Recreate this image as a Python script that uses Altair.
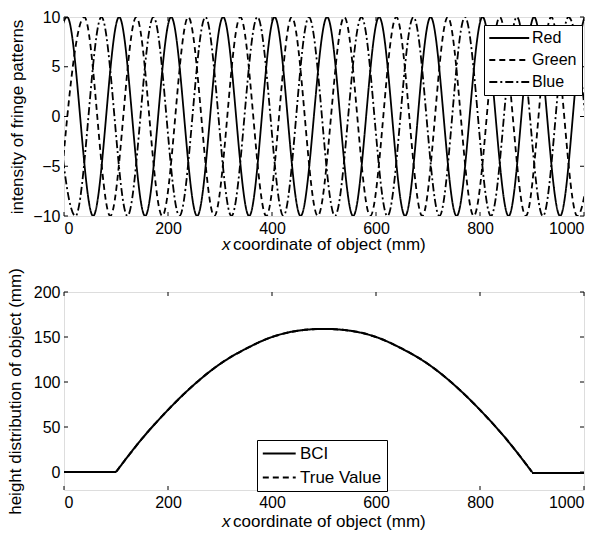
import altair as alt
import pandas as pd

# ---- fringe patterns: positions (mm) of successive maxima/minima of each channel
red_x = [-44, 6, 56, 106, 156, 206, 256, 306, 356, 405, 455, 506, 556, 606, 656,
         705, 755, 805, 855, 904, 954, 1003, 1053]
red_y = [-10, 10, -10, 10, -10, 10, -10, 10, -10, 10, -10, 10, -10, 10, -10,
         10, -10, 10, -10, 10, -10, 10, -10]
green_x = [-11, 39, 89, 139, 189, 239, 289, 339, 389, 438, 488, 539, 589, 639,
           689, 738, 788, 838, 888, 937, 987, 1037]
green_y = [-10, 10, -10, 10, -10, 10, -10, 10, -10, 10, -10, 10, -10, 10,
           -10, 10, -10, 10, -10, 10, -10, 10]
blue_x = [-28, 22, 72, 122, 172, 222, 272, 322, 372, 422, 471, 521, 572, 622,
          672, 722, 771, 821, 871, 921, 970, 1020]
blue_y = [10, -10, 10, -10, 10, -10, 10, -10, 10, -10, 10, -10, 10, -10,
          10, -10, 10, -10, 10, -10, 10, -10]

# ---- height distribution of the object (mm)
flat_left_x = [0, 100]
flat_left_h = [0, 0]
dome_x = [100, 150, 200, 250, 300, 350, 400, 450, 500, 550, 600, 650, 700,
          750, 800, 850, 900]
dome_h = [0, 37, 69, 97, 120, 137, 150, 157, 159, 157, 150, 137, 120, 97,
          69, 37, 0]
flat_right_x = [900, 1000]
flat_right_h = [-1, -1]

x_ticks = [0, 200, 400, 600, 800, 1000]
top_y_ticks = [-10, -5, 0, 5, 10]
bot_y_ticks = [0, 50, 100, 150, 200]

fringe_series = ["Red", "Green", "Blue"]
height_series = ["BCI", "True Value"]

FONT = "Liberation Sans"
W = 520
H_TOP = 199
H_BOT = 198
TICK = 4
LW = 1.8

fringe = pd.concat([
    pd.DataFrame({"x": red_x, "y": red_y, "series": "Red"}),
    pd.DataFrame({"x": green_x, "y": green_y, "series": "Green"}),
    pd.DataFrame({"x": blue_x, "y": blue_y, "series": "Blue"}),
], ignore_index=True)

parts = []
for name in height_series:
    parts.append(pd.DataFrame({"x": flat_left_x, "h": flat_left_h, "series": name, "part": "a"}))
    parts.append(pd.DataFrame({"x": dome_x, "h": dome_h, "series": name, "part": "b"}))
    parts.append(pd.DataFrame({"x": flat_right_x, "h": flat_right_h, "series": name, "part": "c"}))
height = pd.concat(parts, ignore_index=True)


def x_axis():
    return alt.Axis(values=x_ticks, format="d", title=None, grid=False, ticks=False,
                    domain=False, labelFontSize=16, labelPadding=4, labelColor="black",
                    labelFont=FONT)


def y_axis(title, values, pad):
    return alt.Axis(values=values, format="d", title=title, grid=False, ticks=False,
                    domain=False, labelFontSize=16, labelPadding=4, labelColor="black",
                    labelFont=FONT, titleFontSize=17, titleFontWeight="normal",
                    titleFont=FONT, titleColor="black", titlePadding=pad)


def line_legend(lx, ly, path, offset, fs):
    # long line samples with compact rows: a small symbol size keeps rows tight,
    # the path itself reaches past the unit box to give a long sample
    return alt.Legend(orient="none", legendX=lx, legendY=ly, title=None,
                      symbolType=path, symbolSize=196, symbolStrokeWidth=LW,
                      symbolStrokeColor="black", symbolFillColor="transparent",
                      labelFontSize=fs, labelFont=FONT, labelColor="black",
                      labelOffset=offset, strokeColor="black", fillColor="white",
                      padding=5, rowPadding=6)


def inward_ticks(xscale, yscale, yfield, yax, yvalues, h):
    xt = pd.DataFrame({"x": x_ticks})
    yt = pd.DataFrame({yfield: yvalues})
    X = alt.X("x:Q", scale=xscale, axis=x_axis())
    Y = alt.Y(f"{yfield}:Q", scale=yscale, axis=yax)
    base_x = alt.Chart(xt).mark_rule(color="black", strokeWidth=1)
    base_y = alt.Chart(yt).mark_rule(color="black", strokeWidth=1)
    return [
        base_x.encode(x=X, y=alt.value(h), y2=alt.value(h - TICK)),
        base_x.encode(x=X, y=alt.value(0), y2=alt.value(TICK)),
        base_y.encode(y=Y, x=alt.value(0), x2=alt.value(TICK)),
        base_y.encode(y=Y, x=alt.value(W), x2=alt.value(W - TICK)),
    ]


def x_title(h, dy):
    lab = pd.DataFrame({"t": ["x"]})
    rest = pd.DataFrame({"t": ["coordinate of object (mm)"]})
    a = alt.Chart(lab).mark_text(font=FONT, fontSize=17, fontStyle="italic", align="left",
                                 baseline="middle", color="black").encode(
        text="t:N", x=alt.value(158), y=alt.value(h + dy))
    b = alt.Chart(rest).mark_text(font=FONT, fontSize=17, align="left",
                                  baseline="middle", color="black").encode(
        text="t:N", x=alt.value(169), y=alt.value(h + dy))
    return [a, b]


# ---- top panel: fringe patterns
xs_top = alt.Scale(domain=[0, 1000], nice=False, zero=False)
ys_top = alt.Scale(domain=[-10, 10], nice=False, zero=False)
yax_top = y_axis("intensity of fringe patterns", top_y_ticks, 6)

fringe_lines = alt.Chart(fringe).mark_line(
    color="black", strokeWidth=LW, interpolate="monotone", clip=True
).encode(
    x=alt.X("x:Q", scale=xs_top, axis=x_axis()),
    y=alt.Y("y:Q", scale=ys_top, axis=yax_top),
    strokeDash=alt.StrokeDash(
        "series:N",
        scale=alt.Scale(domain=fringe_series, range=[[1, 0], [6, 4], [8, 3, 2, 3]]),
        legend=line_legend(420, 8, "M-1.1,0H4.6", 27, 16),
    ),
    order=alt.Order("x:Q"),
)

top = alt.layer(
    fringe_lines,
    *inward_ticks(xs_top, ys_top, "y", yax_top, top_y_ticks, H_TOP),
    *x_title(H_TOP, 29),
).properties(width=W, height=H_TOP)

# ---- bottom panel: height distribution
xs_bot = alt.Scale(domain=[0, 1000], nice=False, zero=False)
ys_bot = alt.Scale(domain=[-20, 200], nice=False, zero=False)
yax_bot = y_axis("height distribution of object (mm)", bot_y_ticks, 9)

height_lines = alt.Chart(height).mark_line(
    color="black", strokeWidth=2, interpolate="monotone", clip=True
).encode(
    x=alt.X("x:Q", scale=xs_bot, axis=x_axis()),
    y=alt.Y("h:Q", scale=ys_bot, axis=yax_bot),
    strokeDash=alt.StrokeDash(
        "series:N",
        scale=alt.Scale(domain=height_series, range=[[1, 0], [6, 4]]),
        legend=line_legend(193, 148, "M-1.1,0H3.6", 21, 17),
    ),
    detail="part:N",
    order=alt.Order("x:Q"),
)

bottom = alt.layer(
    height_lines,
    *inward_ticks(xs_bot, ys_bot, "h", yax_bot, bot_y_ticks, H_BOT),
    *x_title(H_BOT, 32),
).properties(width=W, height=H_BOT)

chart = alt.vconcat(top, bottom, spacing=76, bounds="flush").resolve_scale(
    strokeDash="independent", x="independent", y="independent"
).resolve_legend(strokeDash="independent").configure_view(
    stroke="black", strokeWidth=1
).configure(background="white").properties(
    padding={"left": 5, "top": 8, "right": 5, "bottom": 0}
)

chart.save("out.html", embed_options={"renderer": "svg", "actions": False})
